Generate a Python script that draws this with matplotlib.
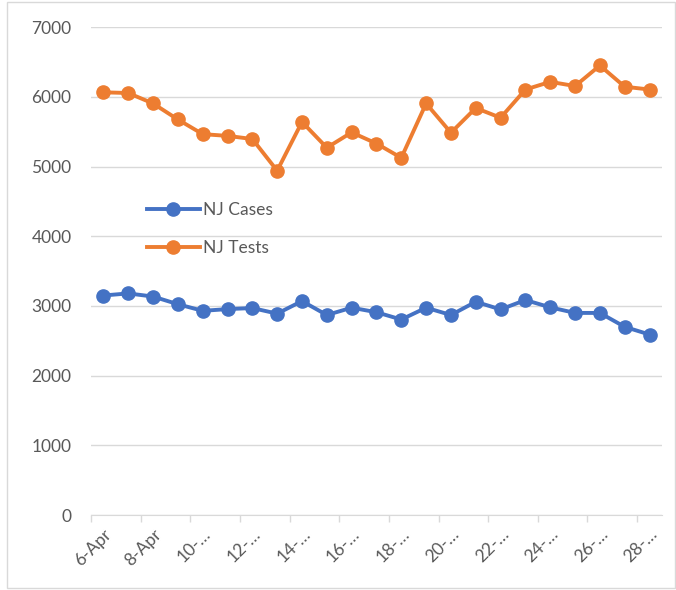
import numpy as np
import matplotlib.pyplot as plt
from matplotlib.patches import Rectangle

days = list(range(6, 29))
tick_labels = ['6-Apr', '8-Apr', '10-…', '12-…', '14-…', '16-…', '18-…',
               '20-…', '22-…', '24-…', '26-…', '28-…']
nj_cases = [3150, 3180, 3135, 3025, 2930, 2955, 2970, 2890, 3070, 2870, 2975, 2910,
            2805, 2975, 2870, 3060, 2950, 3085, 2980, 2900, 2900, 2700, 2590]
nj_tests = [6065, 6055, 5905, 5675, 5465, 5440, 5395, 4940, 5640, 5270, 5490, 5330,
            5125, 5905, 5485, 5840, 5700, 6105, 6215, 6155, 6450, 6145, 6105]

plt.rcParams['font.family'] = ['Lato', 'DejaVu Sans']
grey = '#595959'
grid = '#D9D9D9'

fig = plt.figure(figsize=(6.76, 5.9), dpi=100)
ax = fig.add_axes([0.1346, 0.127, 0.8446, 0.827])

x = np.arange(len(days))
ax.plot(x, nj_cases, color='#4472C4', lw=2.8, marker='o', ms=9.5, label='NJ Cases')
ax.plot(x, nj_tests, color='#ED7D31', lw=2.8, marker='o', ms=9.5, label='NJ Tests')

ax.set_ylim(0, 7000)
ax.set_yticks(range(0, 7001, 1000))
ax.set_xlim(-0.5, len(days) - 0.5)
ax.set_xticks(np.arange(-0.5, len(days), 2))
ax.set_xticklabels([])
ax.set_xticks(x[::2], minor=True)
ax.set_xticklabels(tick_labels, minor=True, rotation=45, ha='right',
                   rotation_mode='anchor', color=grey, fontsize=12.5)
ax.tick_params(axis='x', which='major', length=5, color=grid, width=1)
ax.tick_params(axis='x', which='minor', length=0, pad=8)
ax.tick_params(axis='y', length=0, labelcolor=grey, labelsize=12.5, pad=14)

ax.grid(axis='y', color=grid, lw=1)
ax.set_axisbelow(True)
for s in ['top', 'right', 'left']:
    ax.spines[s].set_visible(False)
ax.spines['bottom'].set_color(grid)
ax.spines['bottom'].set_zorder(1)

ax.legend(loc='center left', bbox_to_anchor=(0.07, 0.586), frameon=False,
          fontsize=12.5, labelcolor=grey, handlelength=3.1, labelspacing=1.3,
          handletextpad=0.15)

fig.patches.append(Rectangle((0.01, 0.004), 0.988, 0.993, transform=fig.transFigure,
                             fill=False, edgecolor=grid, lw=1))

fig.savefig('out.png', dpi=100)
